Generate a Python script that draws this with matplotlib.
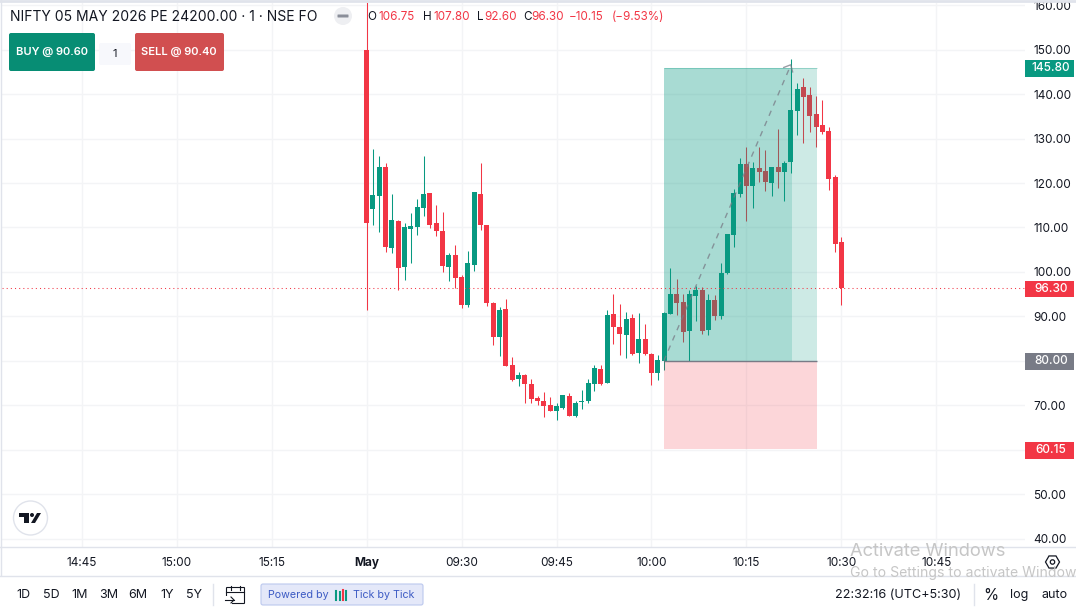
import matplotlib
matplotlib.use('Agg')
import math
import matplotlib.pyplot as plt
from matplotlib.patches import Rectangle, FancyBboxPatch, Circle, RegularPolygon

plt.rcParams['font.family'] = ['Inter', 'DejaVu Sans']

opens = [150.0, 114.2, 117.1, 123.6, 105.4, 111.5, 101.1, 109.7, 110.1, 114.4,
         117.8, 111.0, 109.2, 101.1, 103.8, 98.9, 92.6, 101.6, 117.55, 110.6,
         93.0, 85.4, 91.65, 79.1, 75.9, 76.8, 74.8, 71.65, 71.0, 70.1,
         68.7, 69.4, 72.1, 67.6, 70.75, 71.0, 74.8, 78.2, 75.0, 90.55,
         87.6, 85.8, 89.65, 81.8, 84.9, 81.55, 77.3, 80.0, 90.55, 95.05,
         93.25, 86.7, 94.6, 96.0, 87.0, 93.7, 90.1, 99.8, 108.3, 117.55,
         124.3, 119.35, 123.4, 122.7, 120.0, 123.6, 122.5, 124.75, 136.2, 141.6,
         139.8, 135.55, 133.1, 131.7, 121.4, 106.75]
highs = [161.5, 127.7, 126.1, 124.5, 117.6, 111.7, 111.0, 113.3, 116.4, 126.1,
         117.8, 115.1, 113.5, 104.3, 106.1, 99.3, 104.7, 118.0, 124.5, 110.6,
         93.25, 92.1, 93.9, 80.9, 77.5, 77.05, 75.9, 72.1, 73.0, 71.9,
         70.5, 72.3, 72.8, 71.0, 73.45, 75.9, 79.1, 79.1, 91.45, 95.05,
         92.8, 91.0, 90.55, 90.75, 88.3, 81.8, 81.3, 91.0, 100.9, 98.45,
         95.05, 96.0, 96.85, 96.6, 95.05, 94.8, 102.0, 108.55, 118.7, 125.65,
         128.1, 124.75, 128.1, 127.45, 123.6, 132.2, 125.0, 147.9, 142.5, 143.6,
         141.6, 139.6, 138.7, 132.6, 121.8, 107.8]
lows = [91.5, 110.6, 109.1, 104.5, 104.3, 96.0, 98.2, 102.0, 108.3, 112.6,
        109.9, 108.1, 100.0, 98.0, 96.4, 91.9, 92.1, 100.2, 109.5, 92.35,
        83.6, 81.1, 78.85, 75.5, 74.35, 70.5, 70.5, 70.1, 67.4, 68.7,
        66.7, 69.2, 67.6, 67.4, 69.2, 70.5, 73.2, 74.6, 75.0, 83.8,
        81.3, 80.65, 81.3, 79.5, 81.3, 74.6, 75.7, 78.0, 90.55, 90.35,
        84.25, 80.0, 89.0, 86.05, 85.8, 89.2, 89.45, 99.55, 105.6, 116.9,
        111.5, 114.4, 120.25, 118.2, 117.1, 118.9, 116.0, 122.3, 130.8, 129.0,
        131.5, 128.1, 131.05, 118.45, 104.5, 92.6]
closes = [111.1, 117.3, 123.6, 105.6, 111.7, 100.9, 110.1, 110.35, 114.6, 117.55,
          110.6, 109.2, 101.35, 103.8, 98.65, 92.6, 102.0, 118.0, 110.6, 93.0,
          85.4, 91.45, 78.85, 75.7, 76.8, 74.8, 71.4, 71.0, 69.85, 68.7,
          69.85, 72.3, 67.6, 70.5, 71.0, 75.0, 78.4, 74.8, 90.3, 87.6,
          86.05, 89.4, 81.55, 84.9, 81.55, 77.3, 80.2, 90.75, 95.05, 93.0,
          86.5, 95.05, 96.0, 86.7, 93.7, 90.1, 99.8, 108.55, 117.8, 124.3,
          119.35, 123.4, 122.5, 120.25, 123.6, 122.5, 124.5, 136.45, 141.2, 139.4,
          135.1, 132.6, 131.5, 120.9, 106.3, 96.30]

price_ticks = [40, 50, 60, 70, 80, 90, 100, 110, 120, 130, 140, 150, 160]
time_ticks = [-45, -30, -15, 0, 15, 30, 45, 60, 75, 90]
time_labels = ['14:45', '15:00', '15:15', 'May', '09:30', '09:45', '10:00', '10:15', '10:30', '10:45']

last_price = 96.30
target = 145.80
entry = 80.00
stop = 60.15
box_left, box_touch, box_right = 46.95, 67.2, 71.15

GREEN = '#089981'
RED = '#F23645'
GREY = '#787B86'
INK = '#131722'
LINE = '#E0E3EB'

W, H = 1076, 607
fig = plt.figure(figsize=(W / 100, H / 100), dpi=100, facecolor='white')

# chart pane, pixels 2..1025 across and 3..547 down
ax = fig.add_axes([2 / W, 1 - 547 / H, 1023 / W, 544 / H])
ax.set_xlim(-57.6, 104.01)
ax.set_ylim(38.13, 160.5)
for s in ax.spines.values():
    s.set_visible(False)
ax.grid(True, color='#F3F4F6', lw=1)
ax.set_axisbelow(True)
ax.yaxis.tick_right()
ax.set_yticks(price_ticks)
# 60 and 80 sit under the position tags
ax.set_yticklabels(['' if p in (60, 80) else '%.2f' % p for p in price_ticks])
ax.set_xticks(time_ticks)
ax.set_xticklabels(time_labels)
ax.tick_params(axis='both', length=0, labelsize=8.5, labelcolor=INK)
ax.tick_params(axis='y', pad=6)
ax.tick_params(axis='x', pad=7)
ax.get_xticklabels()[3].set_fontweight('bold')

# candles
for i in range(len(opens)):
    col = GREEN if closes[i] >= opens[i] else RED
    ax.vlines(i, lows[i], highs[i], color=col, lw=0.75, zorder=2)
    ax.bar(i, abs(closes[i] - opens[i]), bottom=min(opens[i], closes[i]), width=0.8,
           color=col, lw=0, zorder=3)

# long position tool
ax.add_patch(Rectangle((box_left, entry), box_touch - box_left, target - entry,
                       fc=GREEN, alpha=0.35, lw=0, zorder=4))
ax.add_patch(Rectangle((box_touch, entry), box_right - box_touch, target - entry,
                       fc=GREEN, alpha=0.2, lw=0, zorder=4))
ax.add_patch(Rectangle((box_left, stop), box_right - box_left, entry - stop,
                       fc=RED, alpha=0.2, lw=0, zorder=4))
ax.hlines(entry, box_left, box_right, color=GREY, lw=1, zorder=5)
ax.hlines(target, box_left, box_right, color=GREEN, lw=0.75, alpha=0.3, zorder=5)
ax.plot([box_left, 67], [entry, 146.5], color=GREY, lw=1, alpha=0.75, ls=(0, (4, 4)), zorder=5)
ax.plot([65.9, 67, 67.3], [146.0, 146.6, 145.0], color=GREY, lw=1, alpha=0.75, zorder=5)

ax.axhline(last_price, color=RED, lw=0.75, ls=(0, (1, 3)), zorder=6)

# pixel overlay for the page furniture
ui = fig.add_axes([0, 0, 1, 1], facecolor='none')
ui.set_xlim(0, W)
ui.set_ylim(H, 0)
ui.axis('off')


def tag(y, price, colour):
    ui.add_patch(Rectangle((1025, y - 8), 49, 16.5, fc=colour, lw=0))
    ui.text(1051, y, '%.2f' % price, color='white', fontsize=8.5, fontweight='medium', ha='center', va='center')


tag(68, target, GREEN)
tag(288.5, last_price, RED)
tag(361, entry, GREY)
tag(450, stop, RED)

ui.plot([0, W], [1, 1], color=LINE, lw=2)
ui.plot([0.5, 0.5], [0, 575], color=LINE, lw=1)
ui.plot([0, W], [547, 547], color=LINE, lw=1)
ui.plot([0, W], [575.5, 575.5], color=LINE, lw=1)

# title row
ui.text(10, 17, 'NIFTY 05 MAY 2026 PE 24200.00 · 1 · NSE FO', fontsize=10.05, color=INK, va='center')
ui.add_patch(Circle((343, 16), 9, fc='#EEEFF2', lw=0))
ui.add_patch(FancyBboxPatch((338, 15), 10, 2, boxstyle='round,pad=0.5', fc='#8A8E99', lw=0))
for xp, label, col in [(367, 'O', INK), (378.5, '106.75', RED), (423, 'H', INK), (433, '107.80', RED),
                       (477, 'L', INK), (484, '92.60', RED), (523, 'C', INK), (531, '96.30', RED),
                       (569, '−10.15', RED), (612, '(−9.53%)', RED)]:
    ui.text(xp, 17, label, fontsize=8.4, color=col, va='center')

# order buttons
ui.add_patch(FancyBboxPatch((11, 35), 82, 34, boxstyle='round,pad=2', fc='#078D74', lw=0))
ui.text(52, 52, 'BUY @ 90.60', color='white', fontsize=8, fontweight='semibold', ha='center', va='center')
ui.add_patch(FancyBboxPatch((101, 45), 28, 18, boxstyle='round,pad=2', fc='#F7F8FC', lw=0))
ui.text(115, 54, '1', color=INK, fontsize=8, ha='center', va='center')
ui.add_patch(FancyBboxPatch((137, 35), 85, 34, boxstyle='round,pad=2', fc='#D14F50', lw=0))
ui.text(179, 52, 'SELL @ 90.40', color='white', fontsize=8, fontweight='semibold', ha='center', va='center')

# tradingview badge
ui.add_patch(Circle((30.5, 518), 17, fc='white', ec=LINE, lw=1))
ui.add_patch(Rectangle((19, 513), 10, 4, fc=INK, lw=0))
ui.add_patch(Rectangle((24, 513), 5, 10, fc=INK, lw=0))
ui.add_patch(Circle((32, 515), 2, fc=INK, lw=0))
ui.fill([31, 37, 41, 35], [523, 513, 513, 523], color=INK, lw=0)

# range buttons
for xp, label in [(23, '1D'), (51, '5D'), (80, '1M'), (109, '3M'), (138, '6M'), (167, '1Y'), (194, '5Y')]:
    ui.text(xp, 595, label, fontsize=9, color=INK, ha='center', va='center')
ui.plot([212.5, 212.5], [584, 605], color=LINE, lw=1)

# date range icon
ui.add_patch(FancyBboxPatch((227, 588), 17, 15, boxstyle='round,pad=0.5', fc='none', ec=INK, lw=0.8))
ui.plot([226, 244], [592, 592], color=INK, lw=0.8)
ui.plot([231, 231], [586, 590], color=INK, lw=0.8)
ui.plot([240, 240], [586, 590], color=INK, lw=0.8)
ui.add_patch(Rectangle((224, 596), 8, 9, fc='white', lw=0))
ui.plot([225, 234], [600, 600], color=INK, lw=0.8)
ui.plot([231, 234, 231], [597, 600, 603], color=INK, lw=0.8)

# powered by pill
ui.add_patch(FancyBboxPatch((263, 586), 158, 17, boxstyle='round,pad=2', fc='#E4E8F9', ec='#BCC8EE', lw=0.8))
ui.text(268, 595, 'Powered by', fontsize=7.7, color='#3D5BC4', va='center')
ui.text(353, 595, 'Tick by Tick', fontsize=7.7, color='#3D5BC4', va='center')
for xp, top, bot, col in [(335.5, 591, 600, GREEN), (339.5, 592, 600, GREEN), (342.5, 590, 600, RED), (346, 591, 600, GREEN)]:
    ui.plot([xp, xp], [top, bot], color=col, lw=1.5)

# bottom right
ui.text(898.5, 595, '22:32:16 (UTC+5:30)', fontsize=9.1, color=INK, ha='center', va='center')
ui.plot([973.5, 973.5], [584, 605], color=LINE, lw=1)
ui.text(991, 595, '%', fontsize=11, color=INK, ha='center', va='center')
ui.text(1019, 595, 'log', fontsize=9, color=INK, ha='center', va='center')
ui.text(1055, 595, 'auto', fontsize=9, color=INK, ha='center', va='center')

# settings gear
ui.add_patch(RegularPolygon((1052.5, 562), 6, radius=7, orientation=math.pi / 6, fc='none', ec=INK, lw=0.9))
ui.add_patch(Circle((1052.5, 562), 2.2, fc='none', ec=INK, lw=0.9))

# windows watermark
ui.text(850, 551, 'Activate Windows', fontsize=13.2, color='#C6C6C6', va='center')
ui.text(850, 573, 'Go to Settings to activate Window', fontsize=10.1, color='#C6C6C6', va='center')

fig.savefig('out.png', dpi=100)
